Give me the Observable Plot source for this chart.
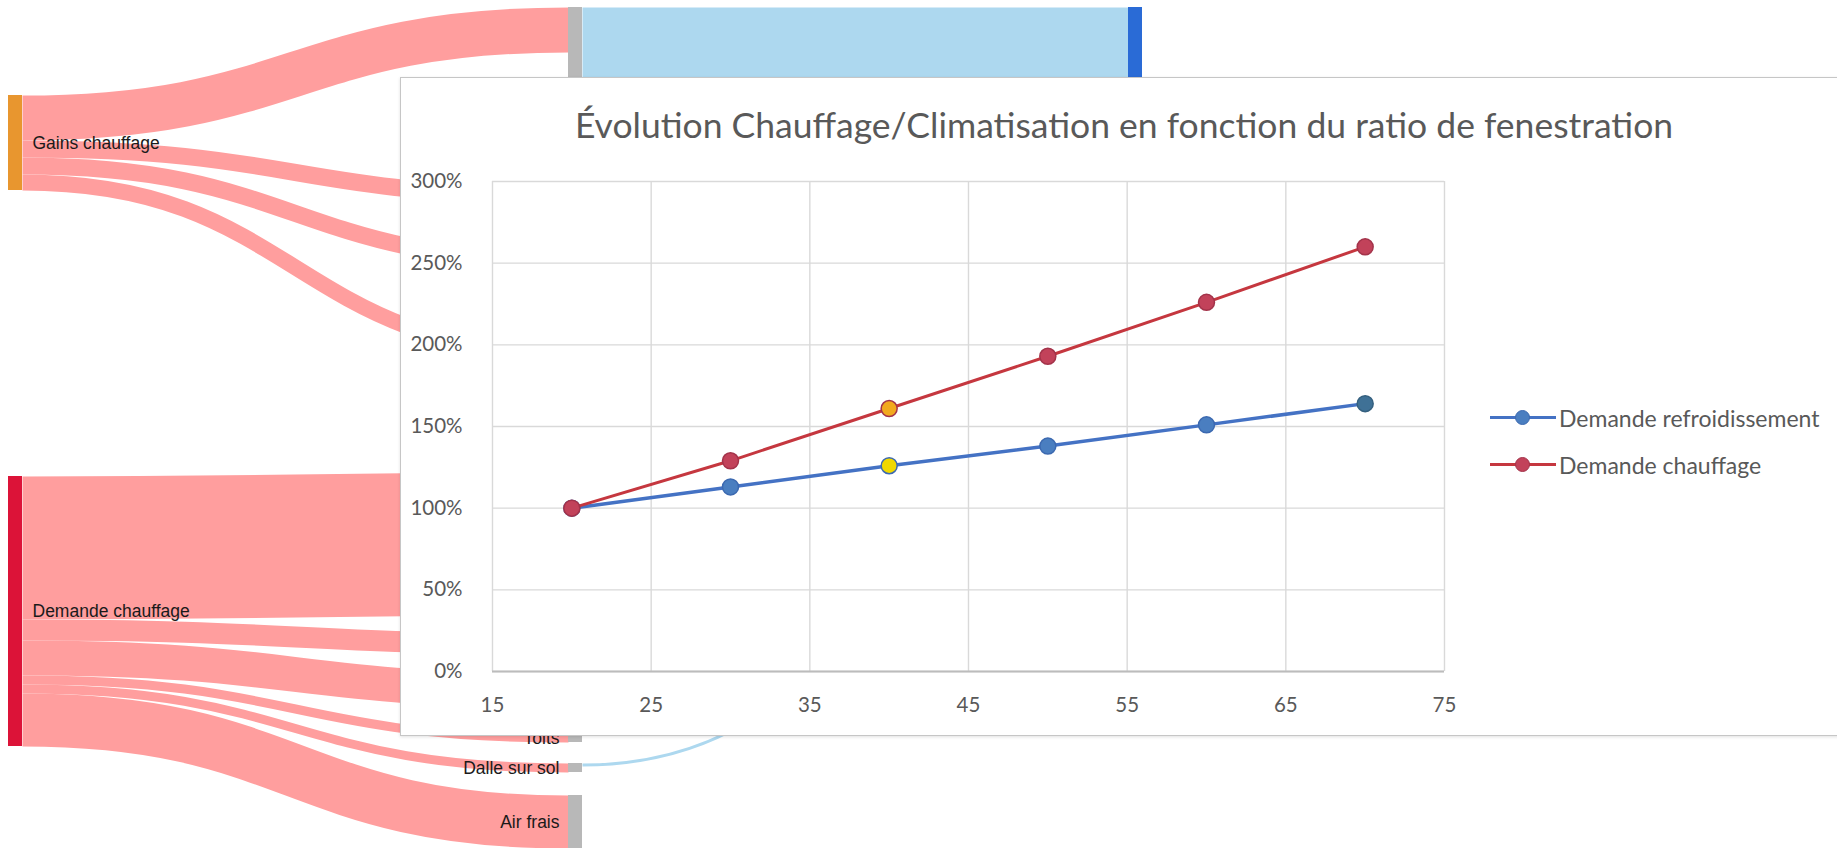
<!DOCTYPE html>
<html lang="fr">
<head>
<meta charset="utf-8">
<script src="https://cdn.jsdelivr.net/npm/d3@7"></script>
<script src="https://cdn.jsdelivr.net/npm/@observablehq/plot@0.6"></script>
<style>
  html, body { margin: 0; padding: 0; background: #fff; }
  #page { position: relative; width: 1837px; height: 848px; overflow: hidden; background: #fff; }
  #sankey { position: absolute; left: 0; top: 0; }
  #panel { position: absolute; left: 400px; top: 77px; width: 1460px; height: 657px;
           background: #fff; border: 1px solid #c6c6c6; box-shadow: 0 1px 3px rgba(0,0,0,0.12); }
  #title { position: absolute; left: 0; top: 26px; width: 1446px; text-align: center;
           font-family: Lato, "Open Sans", sans-serif; font-size: 35.5px; line-height: 42px; color: #595959; }
  #chart { position: absolute; left: 0; top: 0; }
  #legend { position: absolute; left: 1089px; top: 316px; font-family: Lato, "Open Sans", sans-serif;
            font-size: 23px; color: #595959; }
  .row { display: flex; align-items: center; height: 47px; }
  .sw { position: relative; width: 66px; height: 20px; margin-right: 3px; }
  .sw .ln { position: absolute; left: 0; right: 0; top: 8.5px; height: 3px; }
  .sw .mk { position: absolute; left: 25px; top: 2px; width: 13px; height: 13px; border-radius: 50%; border: 1.5px solid; }
</style>
</head>
<body>
<div id="page">
  <div id="sankey"></div>
  <div id="panel">
    <div id="chart"></div>
    <div id="title"></div>
    <div id="legend"></div>
  </div>
</div>
<script>
// ---------------- Background Sankey (flow units) ----------------
const nodeNames = ["Gains chauffage", "Demande chauffage",
  "Gains solaires", "Murs", "Ponts thermiques", "Infiltrations", "Fenêtres", "Portes", "Ventilation",
  "Toits", "Dalle sur sol", "Air frais",
  "Demande refroidissement", "Pertes refroidissement"];
const nodeColumns = [0, 0, 1, 1, 1, 1, 1, 1, 1, 1, 1, 1, 2, 2];
// node tops, in flow units
const nodeTops = [47.5, 238, 3.5, 93.5, 126, 172, 236, 316.5, 336.5, 366.5, 381.5, 397.5, 3.5, 220.75];
// labels that are visible in the picture (others lie under the line chart)
const labelledNodes = ["Gains chauffage", "Demande chauffage", "Toits", "Dalle sur sol", "Air frais"];

const linkSources = ["Gains chauffage", "Gains chauffage", "Gains chauffage", "Gains chauffage",
  "Demande chauffage", "Demande chauffage", "Demande chauffage", "Demande chauffage", "Demande chauffage", "Demande chauffage",
  "Gains solaires", "Murs", "Ponts thermiques", "Infiltrations",
  "Fenêtres", "Portes", "Ventilation", "Dalle sur sol"];
const linkTargets = ["Gains solaires", "Murs", "Ponts thermiques", "Infiltrations",
  "Fenêtres", "Portes", "Ventilation", "Toits", "Dalle sur sol", "Air frais",
  "Demande refroidissement", "Demande refroidissement", "Demande refroidissement", "Demande refroidissement",
  "Pertes refroidissement", "Pertes refroidissement", "Pertes refroidissement", "Pertes refroidissement"];
const linkValues = [22.5, 8.5, 8.5, 8,
  71.5, 10.5, 17.5, 4.5, 4.5, 26.5,
  82, 5, 5, 4,
  20, 3, 5, 1.5];

// ---------------- Line chart data ----------------
const ratios = [20, 30, 40, 50, 60, 70];
const demandeRefroidissement = [1.00, 1.13, 1.26, 1.38, 1.51, 1.64];
const demandeChauffage = [1.00, 1.29, 1.61, 1.93, 2.26, 2.60];
const seriesNames = ["Demande refroidissement", "Demande chauffage"];
const xTicks = [15, 25, 35, 45, 55, 65, 75];
const yTicks = [0, 0.5, 1, 1.5, 2, 2.5, 3];
const titleText = "Évolution Chauffage/Climatisation en fonction du ratio de fenestration";
const highlightRatio = 40;

// ---------------- Sankey layout ----------------
const W = 1837, H = 848, yMax = 424;
const k = H / yMax;            // pixels per flow unit
const nodeW = 0.025;           // node width in column units
const nodes = new Map(nodeNames.map((name, i) => [name, {name, col: nodeColumns[i], top: nodeTops[i], inV: 0, outV: 0}]));
const links = linkSources.map((s, i) => {
  const src = nodes.get(s), tgt = nodes.get(linkTargets[i]), v = linkValues[i];
  const l = {src, tgt, v, so: src.outV, to: tgt.inV};
  src.outV += v; tgt.inV += v;
  return l;
});
for (const n of nodes.values()) n.value = Math.max(n.inV, n.outV);
const nodeArr = [...nodes.values()];
const labelArr = nodeArr.filter(d => labelledNodes.includes(d.name));

const nodeFill = name => name === "Gains chauffage" ? "#E8962F"
  : name === "Demande chauffage" ? "#DC1338"
  : name.startsWith("Demande refroidissement") || name.startsWith("Pertes") ? "#2A6BD6" : "#B8B8B8";
const linkStroke = l => (l.src.col === 0) ? "#FF9E9E" : "#ADD8EF";

const sankey = Plot.plot({
  width: W, height: H, margin: 0,
  x: {domain: [0, 2], range: [8, 1128], axis: null},
  y: {domain: [0, yMax], range: [0, H], axis: null},
  style: {background: "transparent", fontFamily: "'Liberation Sans', Arial, sans-serif"},
  marks: [
    Plot.link(links, {
      x1: l => l.src.col + nodeW, x2: l => l.tgt.col,
      y1: l => l.src.top + l.so + l.v / 2, y2: l => l.tgt.top + l.to + l.v / 2,
      curve: "bump-x", stroke: linkStroke, strokeWidth: l => l.v * k, strokeOpacity: 1
    }),
    Plot.rect(nodeArr, {x1: "col", x2: d => d.col + nodeW, y1: "top", y2: d => d.top + d.value, fill: d => nodeFill(d.name)}),
    Plot.text(labelArr.filter(d => d.col === 0), {x: d => d.col + nodeW, y: d => d.top + d.value / 2, text: "name",
      textAnchor: "start", dx: 10, fontSize: 17.5, fill: "#1a1a1a"}),
    Plot.text(labelArr.filter(d => d.col > 0), {x: "col", y: d => d.top + d.value / 2, text: "name",
      textAnchor: "end", dx: -9, fontSize: 17.5, fill: "#1a1a1a"})
  ]
});
document.getElementById("sankey").append(sankey);

// ---------------- Line chart ----------------
const rows = [demandeRefroidissement, demandeChauffage].flatMap((vals, s) =>
  ratios.map((r, i) => ({serie: seriesNames[s], ratio: r, value: vals[i]})));
const blue = rows.filter(d => d.serie === seriesNames[0]);
const red = rows.filter(d => d.serie === seriesNames[1]);

const chart = Plot.plot({
  width: 1060, height: 640,
  marginLeft: 91, marginRight: 17, marginTop: 103, marginBottom: 47,
  x: {domain: [15, 75]},
  y: {domain: [0, 3]},
  style: {fontFamily: "Lato, 'Open Sans', sans-serif", fontSize: "20px", color: "#595959", background: "transparent"},
  marks: [
    Plot.gridX(xTicks, {stroke: "#d9d9d9", strokeOpacity: 1, strokeWidth: 1.4}),
    Plot.gridY(yTicks, {stroke: "#d9d9d9", strokeOpacity: 1, strokeWidth: 1.4}),
    Plot.ruleY([0], {stroke: "#bcbcbc", strokeWidth: 2}),
    Plot.axisX(xTicks, {tickSize: 0, tickPadding: 26, label: null, fontSize: 20.5}),
    Plot.axisY(yTicks, {tickSize: 0, tickPadding: 30, label: null, tickFormat: d3.format(".0%"), fontSize: 20.5}),
    Plot.line(blue, {x: "ratio", y: "value", stroke: "#4472C4", strokeWidth: 3.5}),
    Plot.dot(blue, {x: "ratio", y: "value", r: 8,
      fill: d => d.ratio === highlightRatio ? "#F0D800" : d.ratio === 70 ? "#3F7196" : "#4A7EC0",
      stroke: d => d.ratio === 70 ? "#35607F" : "#3C69B0", strokeWidth: 1.5}),
    Plot.line(red, {x: "ratio", y: "value", stroke: "#C5373F", strokeWidth: 3}),
    Plot.dot(red, {x: "ratio", y: "value", r: 8,
      fill: d => d.ratio === highlightRatio ? "#F2A91E" : "#C2425A",
      stroke: "#A3334A", strokeWidth: 1.5})
  ]
});
document.getElementById("chart").append(chart);
document.getElementById("title").textContent = titleText;

const legendColors = [{ln: "#4472C4", mk: "#4A7EC0", st: "#3C69B0"}, {ln: "#C5373F", mk: "#C2425A", st: "#A3334A"}];
const legend = document.getElementById("legend");
seriesNames.forEach((name, i) => {
  const row = document.createElement("div"); row.className = "row";
  row.innerHTML = `<div class="sw"><div class="ln" style="background:${legendColors[i].ln}"></div>` +
    `<div class="mk" style="background:${legendColors[i].mk};border-color:${legendColors[i].st}"></div></div><span></span>`;
  row.querySelector("span").textContent = name;
  legend.append(row);
});
</script>
</body>
</html>
